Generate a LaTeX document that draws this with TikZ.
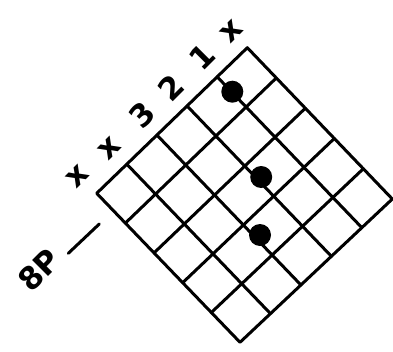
\documentclass[tikz,border=0pt]{standalone}
\usepackage{fontspec}
\setmainfont{DejaVu Sans}
\usetikzlibrary{calc}
\begin{document}
\begin{tikzpicture}[x=1pt,y=-1pt,
  gridline/.style={line width=3pt, line cap=round, line join=round},
  lbl/.style={font=\fontsize{31}{31}\selectfont\bfseries, rotate=45, inner sep=0pt},
  fingerdot/.style={circle, fill=black, minimum size=22pt, inner sep=0pt}]
\useasboundingbox (0,0) rectangle (393,351);
\coordinate (L) at (96.7,193.3);
\coordinate (T) at (247.3,47.7);
\coordinate (R) at (392.3,199);
\coordinate (B) at (240,342.3);
% outer frame
\draw[gridline] (L) -- (T) -- (R) -- (B) -- cycle;
% strings and frets
\foreach \i in {1,...,4} {
  \draw[gridline] ($(L)!\i/5!(T)$) -- ($(B)!\i/5!(R)$);
  \draw[gridline] ($(L)!\i/5!(B)$) -- ($(T)!\i/5!(R)$);
}
% finger dots
\node[fingerdot] (d1) at (232.3,91.7) {};
\node[fingerdot] (d2) at (261.2,177) {};
\node[fingerdot] (d3) at (260,235) {};
% string labels
\node[lbl] (s1) at (77.7,176.7) {x};
\node[lbl] (s2) at (110,148.3) {x};
\node[lbl] (s3) at (141.7,115) {3};
\node[lbl] (s4) at (171,88) {2};
\node[lbl] (s5) at (201.7,56.7) {1};
\node[lbl] (s6) at (232,31) {x};
% fret position
\node[lbl] (fr) at (39,270) {8P};
\coordinate (da) at (68.3,253.3);
\coordinate (db) at (99.3,224);
\draw[gridline] (da) -- (db);
\end{tikzpicture}
\end{document}
